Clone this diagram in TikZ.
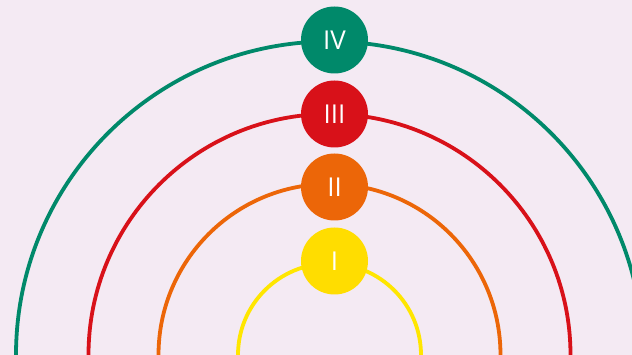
\documentclass[tikz,border=0pt]{standalone}
\usepackage{fontspec}
\setmainfont{Open Sans}
\definecolor{bg}{HTML}{F4EAF3}
\definecolor{cgreen}{HTML}{00896A}
\definecolor{cred}{HTML}{D81119}
\definecolor{corange}{HTML}{EC6608}
\definecolor{cyellow}{HTML}{FFE600}
\definecolor{cyellowdot}{HTML}{FFDD00}
\begin{document}
\begin{tikzpicture}[x=1pt,y=1pt,
  ring/.style={line width=3.8pt},
  dot/.style={circle, minimum size=67pt, inner sep=0pt, text=white, font=\fontsize{26}{26}\selectfont}]
\useasboundingbox (0,0) rectangle (632,355);
\fill[bg] (0,0) rectangle (632,355);
\clip (0,0) rectangle (632,355);
\coordinate (c) at (329.5,0);
\draw[ring, cyellow] ([xshift=-91.5pt]c) arc[start angle=180, end angle=0, radius=91.5];
\draw[ring, corange] ([xshift=-171pt]c) arc[start angle=180, end angle=0, radius=171];
\draw[ring, cred] ([xshift=-241pt]c) arc[start angle=180, end angle=0, radius=241];
\draw[ring, cgreen] ([xshift=-313.5pt]c) arc[start angle=180, end angle=0, radius=313.5];
\node[dot, fill=cgreen] (iv) at (334.5,315) {IV};
\node[dot, fill=cred] (iii) at (334.5,241) {III};
\node[dot, fill=corange] (ii) at (334.5,168) {II};
\node[dot, fill=cyellowdot] (i) at (334.5,94) {I};
\end{tikzpicture}
\end{document}
